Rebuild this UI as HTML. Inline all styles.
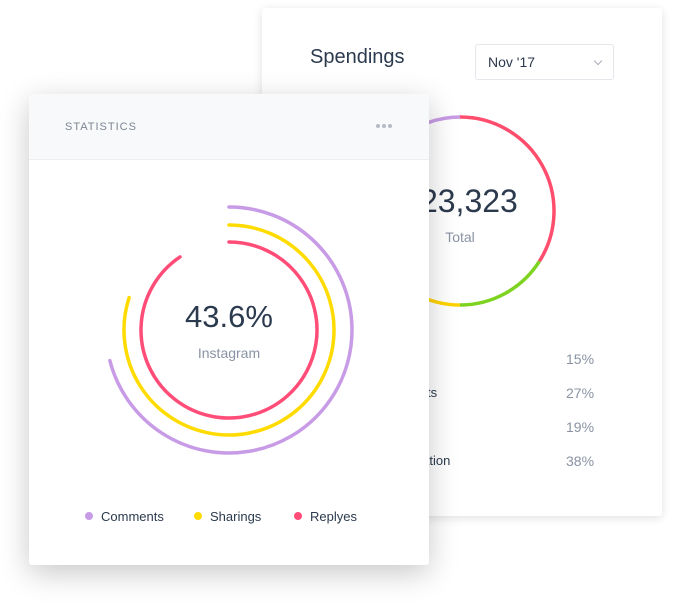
<!DOCTYPE html>
<html><head><meta charset="utf-8"><style>
body{margin:0;width:673px;height:603px;background:#fff;position:relative;overflow:hidden;font-family:"Liberation Sans",sans-serif;}
.card{position:absolute;background:#fff;border-radius:3px;}
#back{left:262px;top:8px;width:400px;height:508px;box-shadow:0 2px 10px rgba(0,0,0,0.12);}
#front{left:29px;top:94px;width:400px;height:471px;box-shadow:0 8px 30px rgba(0,0,0,0.22);overflow:hidden;}
.abs{position:absolute;}
</style></head><body>
<div id="back" class="card">
  <div class="abs" style="left:48px;top:38px;font-size:20px;color:#2c3a4e;">Spendings</div>
  <div class="abs" style="left:213px;top:36px;width:137px;height:34px;border:1px solid #e3e6ea;border-radius:3px;">
    <span style="position:absolute;left:12px;top:9px;font-size:14px;color:#2c3a4e;">Nov '17</span>
    <span style="position:absolute;right:12px;top:13px;width:5px;height:5px;border-right:1px solid #aab;border-bottom:1px solid #aab;transform:rotate(45deg);"></span>
  </div>
  <svg class="abs" style="left:0;top:0" width="400" height="508" id="spsvg"></svg>
  <div class="abs" style="left:98px;top:175px;width:200px;text-align:center;font-size:32px;color:#2c3a4e;">123,323</div>
  <div class="abs" style="left:98px;top:221px;width:200px;text-align:center;font-size:14px;color:#8a93a3;">Total</div>
  <div id="rows"></div>
</div>
<div id="front" class="card">
  <div class="abs" style="left:0;top:0;width:400px;height:65px;background:#f8f9fa;border-bottom:1px solid #eceef0;">
    <div class="abs" style="left:36px;top:27px;font-size:11px;letter-spacing:1px;color:#7d8593;">STATISTICS</div>
    <div class="abs" style="left:347px;top:30px;font-size:0;">
      <span style="display:inline-block;width:4px;height:4px;border-radius:50%;background:#b4bac4;margin-right:2px"></span><span style="display:inline-block;width:4px;height:4px;border-radius:50%;background:#b4bac4;margin-right:2px"></span><span style="display:inline-block;width:4px;height:4px;border-radius:50%;background:#b4bac4"></span>
    </div>
  </div>
  <svg class="abs" style="left:0;top:0" width="400" height="471" id="rsvg"></svg>
  <div class="abs" style="left:100px;top:205px;width:200px;text-align:center;font-size:31px;color:#2c3a4e;">43.6%</div>
  <div class="abs" style="left:100px;top:251px;width:200px;text-align:center;font-size:14px;color:#8a93a3;">Instagram</div>
  <div id="legend"></div>
</div>
<script>
const ringNames=["Comments","Sharings","Replyes"];
const ringValues=[71,80,90.6];
const ringColors=["#c89be6","#ffdb00","#ff4d78"];
const spendCats=["Shopping","Investments","Food","Transportation"];
const spendPct=[15,27,19,38];
const donutValues=[34,16,27,23];
const donutColors=["#ff4d6d","#7ed321","#ffd400","#c89be6"];
const NS="http://www.w3.org/2000/svg";
function arc(cx,cy,r,a0,a1){const p=a=>[cx+r*Math.sin(a*Math.PI/180),cy-r*Math.cos(a*Math.PI/180)];const s=p(a0),e=p(a1);return `M${s[0]},${s[1]} A${r},${r} 0 ${a1-a0>180?1:0} 1 ${e[0]},${e[1]}`;}
const rs=document.getElementById('rsvg');const radii=[123,105,88];
ringValues.forEach((v,i)=>{const p=document.createElementNS(NS,'path');
p.setAttribute('d',arc(200,236,radii[i],0,v/100*360));p.setAttribute('fill','none');p.setAttribute('stroke',ringColors[i]);p.setAttribute('stroke-width','3.5');p.setAttribute('stroke-linecap','round');


rs.appendChild(p);});
const lg=document.getElementById('legend');const lx=[56,165,265];
ringNames.forEach((n,i)=>{const d=document.createElement('div');d.className='abs';d.style.cssText=`left:${lx[i]}px;top:415px;font-size:13px;color:#2c3a4e;white-space:nowrap`;
d.innerHTML=`<span style="display:inline-block;width:8px;height:8px;border-radius:50%;background:${ringColors[i]};margin-right:8px;vertical-align:1px"></span>${n}`;


lg.appendChild(d);});
const ss=document.getElementById('spsvg');let acc=0;const tot=donutValues.reduce((a,b)=>a+b,0);
donutValues.forEach((v,i)=>{const a0=acc/tot*360;acc+=v;const a1=acc/tot*360;const p=document.createElementNS(NS,'path');
p.setAttribute('d',arc(198,203,94,a0,a1));p.setAttribute('fill','none');p.setAttribute('stroke',donutColors[i]);p.setAttribute('stroke-width','3.5');


ss.appendChild(p);});
const rows=document.getElementById('rows');
spendCats.forEach((c,i)=>{const y=343+i*34;
const l=document.createElement('div');l.className='abs';l.style.cssText=`left:105px;top:${y}px;font-size:13px;color:#2c3a4e`;l.textContent=c;


rows.appendChild(l);
const r=document.createElement('div');r.className='abs';r.style.cssText=`left:304px;top:${y}px;font-size:14px;color:#8a93a3`;r.textContent=spendPct[i]+'%';


rows.appendChild(r);});
</script>
</body></html>
